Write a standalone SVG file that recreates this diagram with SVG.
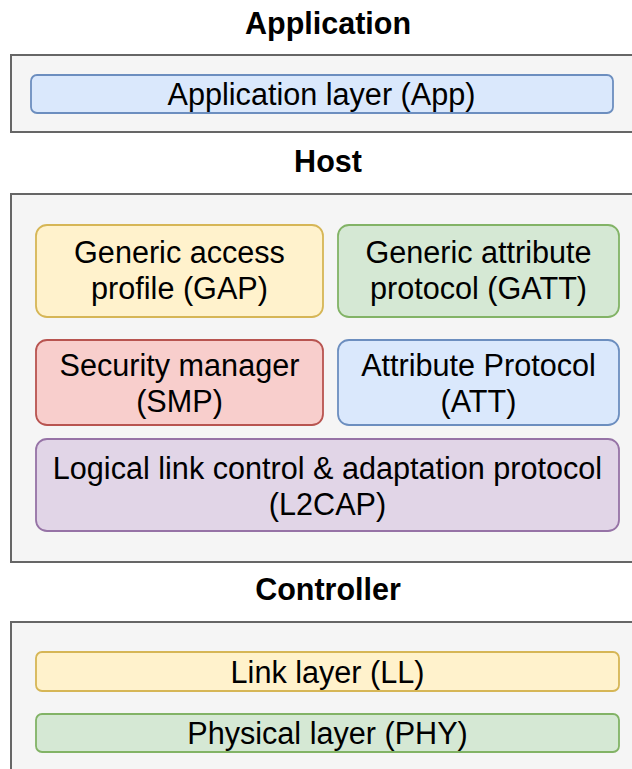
<svg xmlns="http://www.w3.org/2000/svg" width="632" height="769" viewBox="0 0 632 769">
  <style>
    .bg { fill: #ffffff; }
    .group { fill: #f5f5f5; stroke: #666666; stroke-width: 2; }
    .box { stroke-width: 1.8; }
    .blue { fill: #dae8fc; stroke: #6c8ebf; }
    .yellow { fill: #fff2cc; stroke: #d6b656; }
    .green { fill: #d5e8d4; stroke: #82b366; }
    .red { fill: #f8cecc; stroke: #b85450; }
    .purple { fill: #e1d5e7; stroke: #9673a6; }
    text { font-family: "Liberation Sans", Arial, Helvetica, sans-serif; fill: #000000; text-anchor: middle; }
    .title { font-size: 30.5px; font-weight: bold; }
    .label { font-size: 30.6px; }
  </style>

  <rect class="bg" x="0" y="0" width="632" height="769"/>

  <!-- Application tier -->
  <g id="application-tier">
    <text class="title" x="328" y="34">Application</text>
    <rect class="group" x="11" y="55" width="660" height="77"/>
  </g>
  <g id="app">
    <rect class="box blue" x="31" y="75" width="582" height="38" rx="6"/>
    <text class="label" x="321.5" y="104.5">Application layer (App)</text>
  </g>

  <!-- Host tier -->
  <g id="host-tier">
    <text class="title" x="328" y="172">Host</text>
    <rect class="group" x="11" y="194" width="660" height="368"/>
  </g>
  <g id="gap">
    <rect class="box yellow" x="36" y="225" width="287" height="92" rx="11"/>
    <text class="label" x="179.5" y="262.5">Generic access</text>
    <text class="label" x="179.5" y="299">profile (GAP)</text>
  </g>
  <g id="gatt">
    <rect class="box green" x="338" y="225" width="281" height="92" rx="11"/>
    <text class="label" x="478.5" y="262.5">Generic attribute</text>
    <text class="label" x="478.5" y="299">protocol (GATT)</text>
  </g>
  <g id="smp">
    <rect class="box red" x="36" y="340" width="287" height="85" rx="11"/>
    <text class="label" x="179.5" y="375.5">Security manager</text>
    <text class="label" x="179.5" y="411.5">(SMP)</text>
  </g>
  <g id="att">
    <rect class="box blue" x="338" y="340" width="281" height="85" rx="11"/>
    <text class="label" x="478.5" y="375.5">Attribute Protocol</text>
    <text class="label" x="478.5" y="411.5">(ATT)</text>
  </g>
  <g id="l2cap">
    <rect class="box purple" x="36" y="439" width="583" height="92" rx="11"/>
    <text class="label" x="327.5" y="478.5">Logical link control &amp; adaptation protocol</text>
    <text class="label" x="327.5" y="514.5">(L2CAP)</text>
  </g>

  <!-- Controller tier -->
  <g id="controller-tier">
    <text class="title" x="328" y="600">Controller</text>
    <rect class="group" x="11" y="622" width="660" height="200"/>
  </g>
  <g id="ll">
    <rect class="box yellow" x="36" y="652" width="583" height="39" rx="6"/>
    <text class="label" x="327.5" y="682.5">Link layer (LL)</text>
  </g>
  <g id="phy">
    <rect class="box green" x="36" y="714" width="583" height="38" rx="6"/>
    <text class="label" x="327.5" y="744">Physical layer (PHY)</text>
  </g>

  <!-- no connectors between the stacked layers -->
  <g id="connectors"/>
</svg>
